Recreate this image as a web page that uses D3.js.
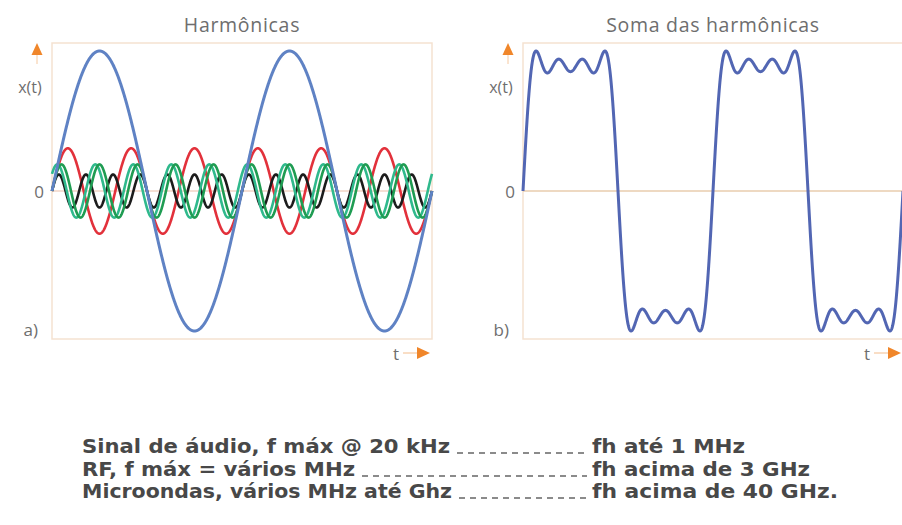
<!DOCTYPE html>
<html>
<head>
<meta charset="utf-8">
<script src="https://cdn.jsdelivr.net/npm/d3@7"></script>
<style>
  body { margin: 0; background: #fff; }
  svg { display: block; }
</style>
</head>
<body>
<svg id="chart" width="902" height="525"></svg>
<script>
// Individual harmonic traces (panel a): order, relative amplitude, phase (degrees)
const traceOrders = [1, 3, 5, 5, 7];
const traceAmplitudes = [1, 0.305, 0.19, 0.19, 0.118];
const tracePhases = [0, 0, 0, 40, 0];

// Partial sum (panel b): odd harmonics and their weights
const sumOrders = [1, 3, 5, 7];
const sumAmplitudes = [1, 0.32, 0.17, 0.1];

const periodsShown = 2;

const panelTitles = ["Harmônicas", "Soma das harmônicas"];
const panelTags = ["a)", "b)"];
const yAxisLabel = "x(t)";
const xAxisLabel = "t";
const zeroLabel = "0";

const bandLabels = [
  "Sinal de áudio, f máx @ 20 kHz",
  "RF, f máx = vários MHz",
  "Microondas, vários MHz até Ghz"
];
const bandHarmonics = [
  "fh até 1 MHz",
  "fh acima de 3 GHz",
  "fh acima de 40 GHz."
];

// ---- styling ----
const traceColors = ["#5f82c4", "#e2313b", "#1f9c52", "#2fb98c", "#1c1c1c"];
const drawOrder = [1, 4, 3, 2, 0];
const sumColor = "#5266b3";
const orange = "#f0862a";
const frameColor = "#f5e2d1";
const textGrey = "#6e6e6e";

const svg = d3.select("#chart");

const panels = [
  { x0: 52, x1: 432, top: 43, bottom: 339, zeroY: 191, amp: 140 },
  { x0: 523, x1: 903, top: 43, bottom: 339, zeroY: 191, amp: 140 }
];

const tSamples = d3.range(0, periodsShown + 1e-9, periodsShown / 1600);
const traceValue = (i, t) =>
  traceAmplitudes[i] * Math.sin(2 * Math.PI * traceOrders[i] * t + tracePhases[i] * Math.PI / 180);
const sumValue = t =>
  d3.sum(sumOrders, (n, i) => sumAmplitudes[i] * Math.sin(2 * Math.PI * n * t));
const sumMax = d3.max(tSamples, t => Math.abs(sumValue(t)));

const baseFont = "Open Sans, Liberation Sans, sans-serif";

panels.forEach((p, k) => {
  const g = svg.append("g");
  const x = d3.scaleLinear().domain([0, periodsShown]).range([p.x0, p.x1]);
  const yMax = k === 0 ? d3.max(traceAmplitudes) : sumMax;
  const y = d3.scaleLinear().domain([-yMax, yMax]).range([p.zeroY + p.amp, p.zeroY - p.amp]);

  // frame
  g.append("rect")
    .attr("x", p.x0).attr("y", p.top)
    .attr("width", p.x1 - p.x0).attr("height", p.bottom - p.top)
    .attr("fill", "none").attr("stroke", frameColor).attr("stroke-width", 1.5);

  // zero line
  g.append("line")
    .attr("x1", p.x0).attr("x2", p.x1)
    .attr("y1", y(0)).attr("y2", y(0))
    .attr("stroke", k === 0 ? "#f2d4c6" : "#e9cdae").attr("stroke-width", 1.5);

  // title
  g.append("text")
    .attr("x", (p.x0 + p.x1) / 2)
    .attr("y", 32)
    .attr("text-anchor", "middle")
    .attr("font-family", baseFont)
    .attr("font-size", 19.5)
    .attr("letter-spacing", 0.7)
    .attr("fill", textGrey)
    .text(panelTitles[k]);

  // y arrow
  const ax = p.x0 - 15;
  g.append("line")
    .attr("x1", ax).attr("x2", ax).attr("y1", 54).attr("y2", 64)
    .attr("stroke", "#f6c9a0").attr("stroke-width", 1);
  g.append("path")
    .attr("d", `M${ax - 5.5},55 L${ax},43 L${ax + 5.5},55 Z`)
    .attr("fill", orange);

  g.append("text")
    .attr("x", ax - 7).attr("y", 93)
    .attr("text-anchor", "middle")
    .attr("font-family", baseFont)
    .attr("font-size", 16)
    .attr("fill", textGrey)
    .text(yAxisLabel);

  g.append("text")
    .attr("x", p.x0 - 8).attr("y", y(0) + 7)
    .attr("text-anchor", "end")
    .attr("font-family", baseFont)
    .attr("font-size", 17)
    .attr("fill", textGrey)
    .text(zeroLabel);

  g.append("text")
    .attr("x", p.x0 - 14).attr("y", 336)
    .attr("text-anchor", "end")
    .attr("font-family", baseFont)
    .attr("font-size", 17)
    .attr("fill", textGrey)
    .text(panelTags[k]);

  // x arrow
  const tx = p.x1 - 36;
  g.append("text")
    .attr("x", tx).attr("y", 360)
    .attr("text-anchor", "middle")
    .attr("font-family", baseFont)
    .attr("font-size", 17)
    .attr("fill", textGrey)
    .text(xAxisLabel);
  g.append("line")
    .attr("x1", tx + 7).attr("x2", tx + 22).attr("y1", 353).attr("y2", 353)
    .attr("stroke", "#f6c9a0").attr("stroke-width", 1.2);
  g.append("path")
    .attr("d", `M${tx + 21},347 L${tx + 34},353 L${tx + 21},359 Z`)
    .attr("fill", orange);

  if (k === 0) {
    drawOrder.forEach(i => {
      const line = d3.line()
        .x(t => x(t))
        .y(t => y(traceValue(i, t)));
      g.append("path")
        .attr("d", line(tSamples))
        .attr("fill", "none")
        .attr("stroke", traceColors[i])
        .attr("stroke-width", i === 0 ? 3 : 2.6)
        .attr("stroke-linejoin", "round");
    });
  } else {
    const line = d3.line().x(t => x(t)).y(t => y(sumValue(t)));
    g.append("path")
      .attr("d", line(tSamples))
      .attr("fill", "none")
      .attr("stroke", sumColor)
      .attr("stroke-width", 3)
      .attr("stroke-linejoin", "round");
  }
});

// Frequency band notes
const leftWidths = [368, 273, 370];
const rightWidths = [153, 218, 246];
const rowY = [453, 476, 498];
const notes = svg.append("g")
  .attr("font-family", "Liberation Sans Narrow, DejaVu Sans Condensed, sans-serif")
  .attr("font-weight", "bold")
  .attr("font-size", 20)
  .attr("fill", "#484848");

bandLabels.forEach((label, i) => {
  notes.append("text")
    .attr("x", 82).attr("y", rowY[i])
    .attr("textLength", leftWidths[i])
    .attr("lengthAdjust", "spacingAndGlyphs")
    .text(label);
  notes.append("line")
    .attr("x1", 82 + leftWidths[i] + 7).attr("x2", 587)
    .attr("y1", rowY[i]).attr("y2", rowY[i])
    .attr("stroke", "#666").attr("stroke-width", 1.3)
    .attr("stroke-dasharray", "6,5");
  notes.append("text")
    .attr("x", 592).attr("y", rowY[i])
    .attr("textLength", rightWidths[i])
    .attr("lengthAdjust", "spacingAndGlyphs")
    .text(bandHarmonics[i]);
});
</script>
</body>
</html>
